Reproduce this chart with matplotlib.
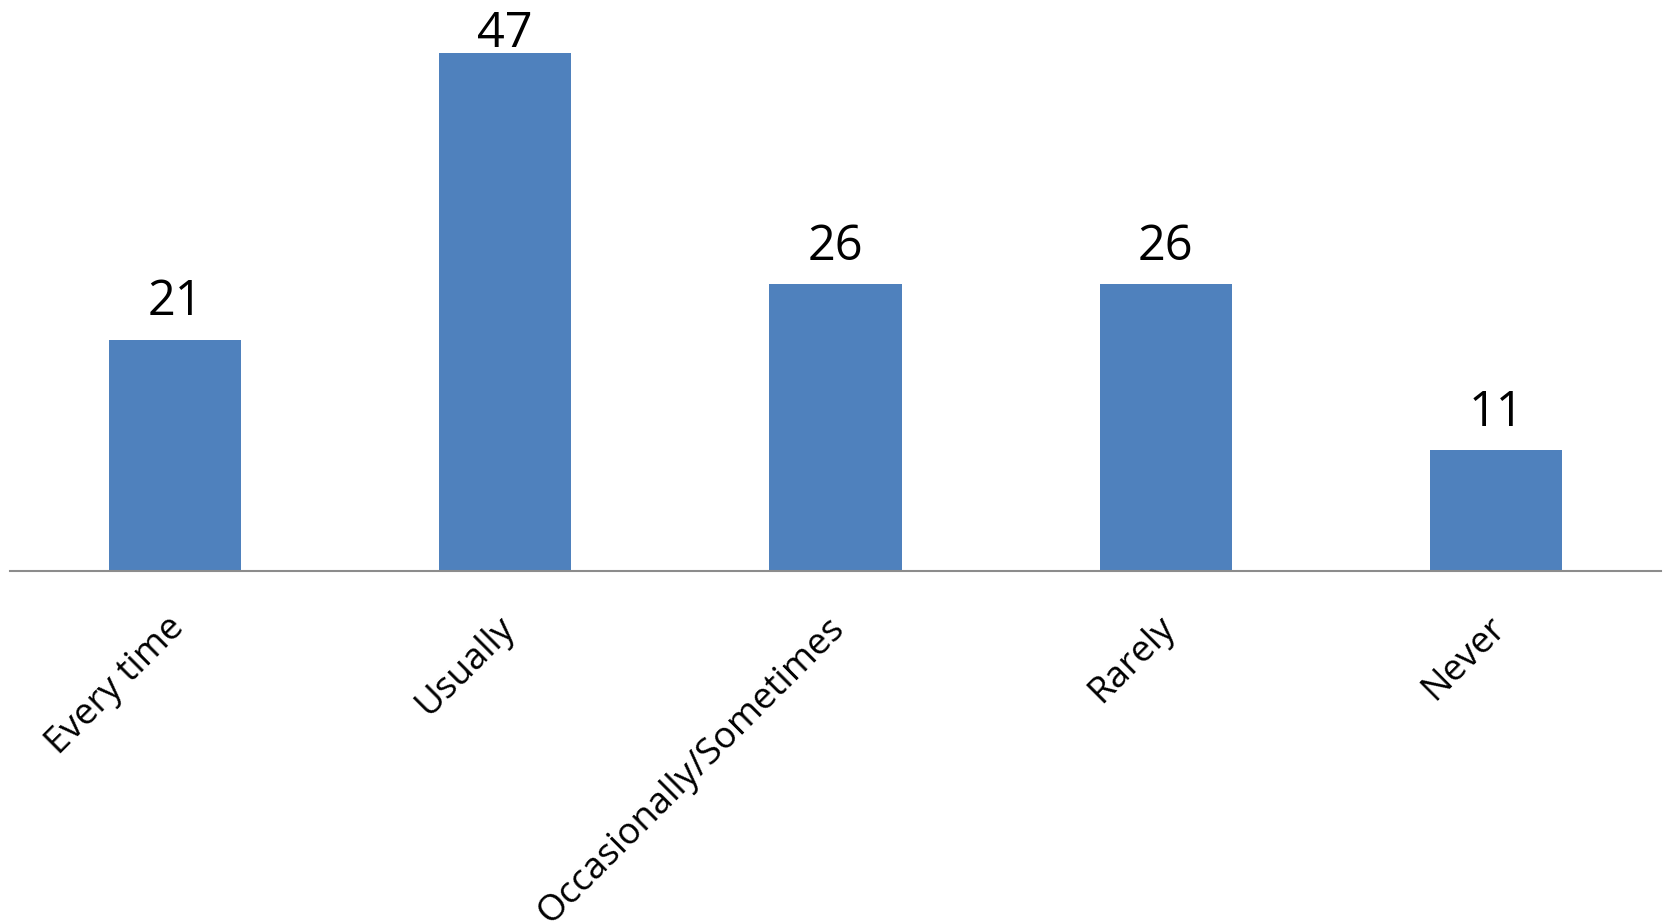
import matplotlib
matplotlib.use("Agg")
import matplotlib.pyplot as plt
import matplotlib.transforms as mtransforms

categories = ["Every time", "Usually", "Occasionally/Sometimes", "Rarely", "Never"]
values = [21, 47, 26, 26, 11]

plt.rcParams['font.family'] = ['Open Sans', 'DejaVu Sans']

W, H, DPI = 1665, 923, 100
fig = plt.figure(figsize=(W / DPI, H / DPI), dpi=DPI, facecolor='white')
ax = fig.add_axes([10 / W, 1 - 571 / H, 1651 / W, 551 / H])
ax.set_facecolor('none')

x = list(range(len(categories)))
bars = ax.bar(x, values, width=0.4, color='#4F81BD', zorder=2)
ax.set_xlim(-0.5, len(categories) - 0.5)
ax.set_ylim(0, 50)

# label gap above bar (in data units) and highest allowed baseline (fits in figure)
gap = 2.2
max_baseline = 47.55
for b, v in zip(bars, values):
    ax.text(b.get_x() + b.get_width() / 2, min(v + gap, max_baseline), str(v),
            ha='center', va='baseline', fontsize=35, color='black')

for s in ['left', 'right', 'top']:
    ax.spines[s].set_visible(False)
ax.spines['bottom'].set_color('#8C8C8C')
ax.spines['bottom'].set_linewidth(1.5)
ax.set_yticks([])
ax.set_xticks(x)
ax.set_xticklabels(categories, rotation=45, ha='right', va='center',
                   rotation_mode='anchor', fontsize=26.5)
ax.tick_params(axis='x', length=0, pad=37)
offset = mtransforms.ScaledTranslation(4 / DPI, 0, fig.dpi_scale_trans)
for lbl in ax.get_xticklabels():
    lbl.set_transform(lbl.get_transform() + offset)

fig.savefig('out.png', dpi=DPI, facecolor='white')
